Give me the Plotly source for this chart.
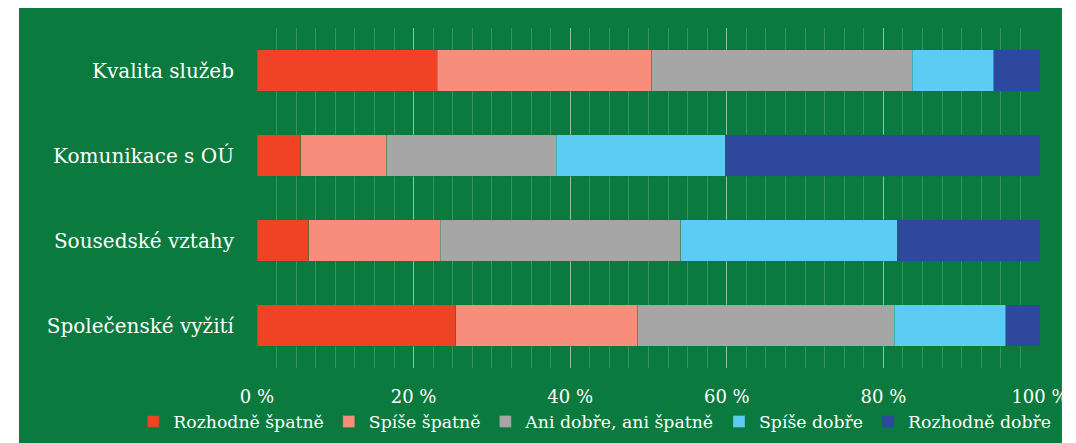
import plotly.graph_objects as go

categories = ["Kvalita služeb", "Komunikace s OÚ", "Sousedské vztahy", "Společenské vyžití"]
series_names = ["Rozhodně špatně", "Spíše špatně", "Ani dobře, ani špatně", "Spíše dobře", "Rozhodně dobře"]
rozhodne_spatne = [23.0, 5.6, 6.6, 25.4]
spise_spatne = [27.4, 11.0, 16.8, 23.2]
ani_ani = [33.3, 21.6, 30.7, 32.8]
spise_dobre = [10.4, 21.6, 27.7, 14.2]
rozhodne_dobre = [5.9, 40.2, 18.2, 4.4]
tick_vals = [0, 20, 40, 60, 80, 100]
tick_text = ["0 %", "20 %", "40 %", "60 %", "80 %", "100 %"]

colors = ["#F04224", "#F88D7C", "#A6A6A6", "#5DCCF2", "#2E489E"]
series = [rozhodne_spatne, spise_spatne, ani_ani, spise_dobre, rozhodne_dobre]

GREEN = "#0A7A3E"
FONT = "DejaVu Serif"

fig = go.Figure()
for name, vals, col in zip(series_names, series, colors):
    fig.add_trace(go.Bar(
        y=categories, x=vals, name=name, orientation="h",
        marker=dict(color=col, line=dict(color="rgba(10,122,62,0.5)", width=0.7)),
        width=0.49,
    ))

fig.update_layout(
    barmode="stack",
    width=1068, height=435,
    margin=dict(l=249, r=36, t=20, b=75, autoexpand=False),
    paper_bgcolor="white",
    plot_bgcolor="rgba(0,0,0,0)",
    font=dict(family=FONT, color="white", size=18),
    showlegend=True,
    legend=dict(orientation="h", x=-0.158, xanchor="left", y=-0.105, yanchor="top",
                font=dict(size=17.3, color="white"), bgcolor="rgba(0,0,0,0)",
                traceorder="normal", itemwidth=30, tracegroupgap=0),
    shapes=[dict(type="rect", xref="paper", yref="paper",
                 x0=-0.304, x1=1.028, y0=-0.23, y1=1.06,
                 fillcolor=GREEN, line=dict(width=0), layer="below")],
    xaxis=dict(range=[0, 100], tickvals=tick_vals, ticktext=tick_text,
               showgrid=True, gridcolor="rgba(255,255,255,0.45)", gridwidth=1,
               zeroline=False, showline=False,
               tickfont=dict(size=18, color="white"),
               ticks="outside", ticklen=12, tickcolor="rgba(0,0,0,0)",
               minor=dict(dtick=2.5, showgrid=True, gridcolor="rgba(255,255,255,0.18)", gridwidth=1)),
    yaxis=dict(autorange="reversed", showgrid=False, zeroline=False, showline=False,
               tickfont=dict(size=20, color="white"),
               ticks="outside", ticklen=18, tickcolor="rgba(0,0,0,0)"),
)

fig.write_html("out.html")
